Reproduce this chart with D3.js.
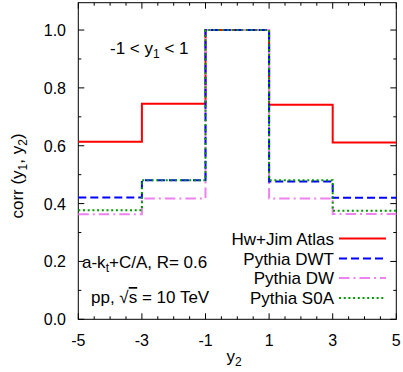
<!DOCTYPE html>
<html><head><meta charset="utf-8">
<script src="https://cdn.jsdelivr.net/npm/d3@7"></script>
<style>
body{margin:0;background:#fff;}
svg{display:block;font-family:"Liberation Sans",Arial,Helvetica,sans-serif;}
</style></head>
<body><svg id="c" width="403" height="372"></svg>
<script>
const binEdges = [-5, -3, -1, 1, 3, 5];
const seriesNames = ["Hw+Jim Atlas", "Pythia DWT", "Pythia DW", "Pythia S0A"];
const hwJim = [0.614, 0.745, 1.0, 0.742, 0.611];
const pythiaDWT = [0.421, 0.481, 1.0, 0.476, 0.420];
const pythiaDW = [0.363, 0.418, 1.0, 0.418, 0.364];
const pythiaS0A = [0.377, 0.481, 1.0, 0.481, 0.375];
const xTicks = [-5, -3, -1, 1, 3, 5];
const yTicks = [0.0, 0.2, 0.4, 0.6, 0.8, 1.0];

const styles = [
  {color:"#ff0000", dash:null, w:2},
  {color:"#0000ff", dash:"8,4", w:2},
  {color:"#ee82ee", dash:"10.5,4,2,4", w:2},
  {color:"#009a00", dash:"2,2.7", w:2}
];
const data = [hwJim, pythiaDWT, pythiaDW, pythiaS0A];

const FS = 17, SUB = 12;
const svg = d3.select("#c");
const L = 78.3, R = 396.3, B = 319.3, T = 2.7;
const x = d3.scaleLinear().domain([-5, 5]).range([L, R]);
const y = d3.scaleLinear().domain([0, 1.0945]).range([B, T]);

// frame
svg.append("rect").attr("x", L).attr("y", T).attr("width", R - L).attr("height", B - T)
  .attr("fill", "none").attr("stroke", "#000").attr("stroke-width", 1);

// ticks (inward, mirrored)
const g = svg.append("g").attr("stroke", "#000").attr("stroke-width", 1);
const xMinor = d3.range(-5, 5.001, 0.5);
xMinor.forEach(v => {
  const major = xTicks.some(t => Math.abs(t - v) < 1e-6);
  const len = major ? 6 : 3;
  g.append("line").attr("x1", x(v)).attr("x2", x(v)).attr("y1", B).attr("y2", B - len);
  g.append("line").attr("x1", x(v)).attr("x2", x(v)).attr("y1", T).attr("y2", T + len);
});
const yMinor = d3.range(0, 1.0501, 0.1);
yMinor.forEach(v => {
  const major = yTicks.some(t => Math.abs(t - v) < 1e-6);
  const len = major ? 6 : 3;
  g.append("line").attr("x1", L).attr("x2", L + len).attr("y1", y(v)).attr("y2", y(v));
  g.append("line").attr("x1", R).attr("x2", R - len).attr("y1", y(v)).attr("y2", y(v));
});

// tick labels
svg.append("g").selectAll("text").data(xTicks).join("text")
  .attr("x", d => x(d)).attr("y", 346).attr("text-anchor", "middle")
  .attr("font-size", 16).text(d => d);
svg.append("g").selectAll("text").data(yTicks).join("text")
  .attr("x", 66).attr("y", d => y(d) + 6).attr("text-anchor", "end")
  .attr("font-size", 16).text(d => d.toFixed(1));

// axis titles
const xt = svg.append("text").attr("x", 234).attr("y", 362).attr("text-anchor", "middle").attr("font-size", FS);
xt.append("tspan").text("y");
xt.append("tspan").attr("font-size", SUB).attr("dy", 4).text("2");
const yt = svg.append("text").attr("transform", "translate(23,176) rotate(-90)").attr("text-anchor", "middle").attr("font-size", FS);
yt.append("tspan").text("corr (y");
yt.append("tspan").attr("font-size", SUB).attr("dy", 4).text("1");
yt.append("tspan").attr("dy", -4).text(", y");
yt.append("tspan").attr("font-size", SUB).attr("dy", 4).text("2");
yt.append("tspan").attr("dy", -4).text(")");

// histograms (steps)
function stepPts(vals) {
  const pts = [];
  vals.forEach((v, i) => { pts.push([binEdges[i], v]); pts.push([binEdges[i + 1], v]); });
  return pts;
}
const line = d3.line().x(d => x(d[0])).y(d => y(d[1]));
const order = [0, 2, 1, 3];
order.forEach(i => {
  svg.append("path").attr("d", line(stepPts(data[i])))
    .attr("fill", "none").attr("stroke", styles[i].color).attr("stroke-width", styles[i].w)
    .attr("stroke-dasharray", styles[i].dash);
});

// annotation texts
const t1 = svg.append("text").attr("x", 110).attr("y", 54).attr("font-size", FS);
t1.append("tspan").text("-1 < y");
t1.append("tspan").attr("font-size", SUB).attr("dy", 4).text("1");
t1.append("tspan").attr("dy", -4).text(" < 1");

const t2 = svg.append("text").attr("x", 82).attr("y", 268).attr("font-size", FS);
t2.append("tspan").text("a-k");
t2.append("tspan").attr("font-size", SUB).attr("dy", 4).text("t");
t2.append("tspan").attr("dy", -4).text("+C/A, R= 0.6");

const t3 = svg.append("text").attr("x", 91).attr("y", 303).attr("font-size", FS);
t3.append("tspan").text("pp, \u221A");
t3.append("tspan").style("text-decoration", "overline").text("s");
t3.append("tspan").text(" = 10 TeV");

// legend
const legY = [238.5, 258.5, 278, 298];
seriesNames.forEach((name, i) => {
  svg.append("text").attr("x", 334).attr("y", legY[i] + 6).attr("text-anchor", "end")
    .attr("font-size", FS).text(name);
  svg.append("line").attr("x1", 339).attr("x2", 386).attr("y1", legY[i]).attr("y2", legY[i])
    .attr("stroke", styles[i].color).attr("stroke-width", styles[i].w)
    .attr("stroke-dasharray", styles[i].dash);
});
</script></body></html>
